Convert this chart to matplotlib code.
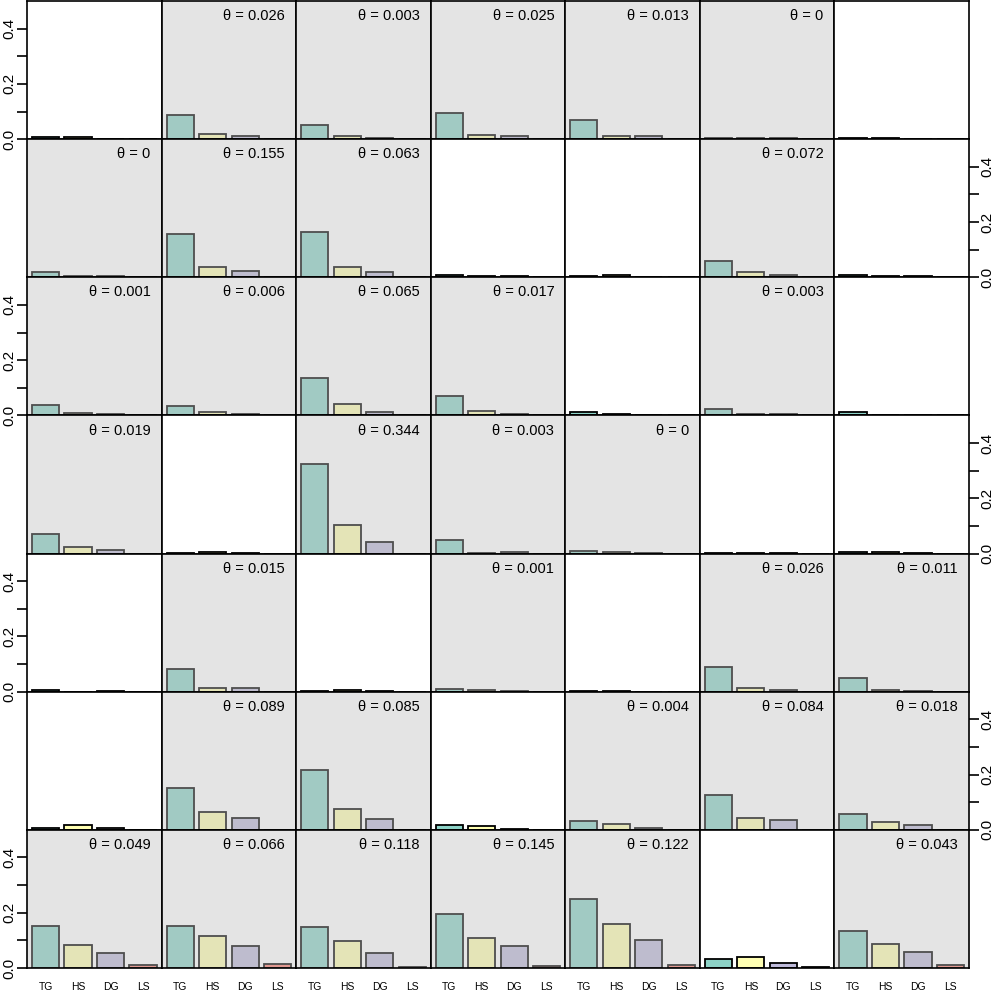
import matplotlib.pyplot as plt
from matplotlib.patches import Rectangle

plt.rcParams['font.family'] = ['Liberation Sans', 'DejaVu Sans']

categories = ['TG', 'HS', 'DG', 'LS']
bar_colors = ['#8dd3c7', '#ffffb3', '#bebada', '#fb8072']

# theta per panel (None = panel not highlighted, no label)
theta = [
    [None, '0.026', '0.003', '0.025', '0.013', '0', None],
    ['0', '0.155', '0.063', None, None, '0.072', None],
    ['0.001', '0.006', '0.065', '0.017', None, '0.003', None],
    ['0.019', None, '0.344', '0.003', '0', None, None],
    [None, '0.015', None, '0.001', None, '0.026', '0.011'],
    [None, '0.089', '0.085', None, '0.004', '0.084', '0.018'],
    ['0.049', '0.066', '0.118', '0.145', '0.122', None, '0.043'],
]

tg_vals = [
    [0.006, 0.089, 0.051, 0.095, 0.069, 0.004, 0.005],
    [0.018, 0.156, 0.163, 0.010, 0.006, 0.059, 0.010],
    [0.037, 0.035, 0.134, 0.072, 0.011, 0.023, 0.013],
    [0.072, 0.003, 0.324, 0.048, 0.009, 0.002, 0.004],
    [0.007, 0.082, 0.003, 0.009, 0.003, 0.089, 0.049],
    [0.007, 0.150, 0.215, 0.016, 0.031, 0.126, 0.057],
    [0.153, 0.152, 0.149, 0.196, 0.249, 0.031, 0.135],
]
hs_vals = [
    [0.006, 0.019, 0.011, 0.014, 0.013, 0.004, 0.005],
    [0.006, 0.036, 0.039, 0.006, 0.007, 0.019, 0.006],
    [0.007, 0.013, 0.042, 0.016, 0.004, 0.005, 0.001],
    [0.025, 0.006, 0.105, 0.003, 0.004, 0.002, 0.004],
    [0.000, 0.013, 0.006, 0.006, 0.003, 0.012, 0.007],
    [0.017, 0.065, 0.074, 0.013, 0.021, 0.043, 0.028],
    [0.083, 0.115, 0.098, 0.109, 0.158, 0.041, 0.086],
]
dg_vals = [
    [0.000, 0.011, 0.005, 0.012, 0.010, 0.004, 0.000],
    [0.004, 0.024, 0.018, 0.004, 0.001, 0.008, 0.003],
    [0.004, 0.004, 0.013, 0.006, 0.000, 0.006, 0.000],
    [0.012, 0.001, 0.042, 0.004, 0.002, 0.001, 0.003],
    [0.003, 0.013, 0.001, 0.003, 0.000, 0.007, 0.001],
    [0.005, 0.042, 0.041, 0.002, 0.007, 0.035, 0.017],
    [0.053, 0.080, 0.054, 0.080, 0.101, 0.018, 0.057],
]
ls_vals = [
    [0.000, 0.000, 0.000, 0.000, 0.000, 0.000, 0.000],
    [0.000, 0.000, 0.000, 0.000, 0.000, 0.000, 0.001],
    [0.000, 0.000, 0.000, 0.000, 0.000, 0.000, 0.000],
    [0.000, 0.000, 0.000, 0.000, 0.000, 0.000, 0.000],
    [0.000, 0.000, 0.000, 0.000, 0.000, 0.000, 0.000],
    [0.000, 0.000, 0.000, 0.000, 0.000, 0.000, 0.000],
    [0.010, 0.013, 0.003, 0.008, 0.010, 0.005, 0.011],
]

nrow, ncol = 7, 7
W = H = 997
left_px, right_px = 27, 969
top_px, bot_px = 1, 968
pw = (right_px - left_px) / ncol
ph = (bot_px - top_px) / nrow

fig = plt.figure(figsize=(W / 100, H / 100), dpi=100)

xpos = [0.7, 1.9, 3.1, 4.3]

for r in range(nrow):
    for c in range(ncol):
        x0 = (left_px + c * pw) / W
        y0 = 1 - (top_px + (r + 1) * ph) / H
        ax = fig.add_axes([x0, y0, pw / W, ph / H])
        vals = [tg_vals[r][c], hs_vals[r][c], dg_vals[r][c], ls_vals[r][c]]
        ax.bar(xpos, vals, width=1.0, color=bar_colors, edgecolor='black',
               linewidth=1.3, zorder=1)
        ax.set_xlim(0.016, 4.984)
        ax.set_ylim(0, 0.5)
        for sp in ax.spines.values():
            sp.set_linewidth(1.2)
            sp.set_color('black')
        if theta[r][c] is not None:
            # grey veil over highlighted panels
            ax.add_patch(Rectangle((0, 0), 1, 1, transform=ax.transAxes,
                                   facecolor='#bfbfbf', alpha=0.41,
                                   edgecolor='none', zorder=1.5))
            ax.text(0.918, 0.89, '\u03b8 = ' + theta[r][c], transform=ax.transAxes,
                    ha='right', va='center', fontsize=10.5, zorder=3)

        # x labels only on bottom row
        if r == nrow - 1:
            ax.set_xticks(xpos)
            ax.set_xticklabels(categories, fontsize=7.5)
            ax.tick_params(axis='x', length=0, pad=10)
        else:
            ax.set_xticks([])

        # y axis alternates left / right
        yt = [0, 0.1, 0.2, 0.3, 0.4]
        ylab = ['0.0', '', '0.2', '', '0.4']
        if r % 2 == 0 and c == 0:
            ax.set_yticks(yt)
            ax.set_yticklabels(ylab, rotation=90, va='center', fontsize=11)
            ax.tick_params(axis='y', length=7, width=1.2, pad=1)
        elif r % 2 == 1 and c == ncol - 1:
            ax.yaxis.tick_right()
            ax.set_yticks(yt)
            ax.set_yticklabels(ylab, rotation=90, va='center', fontsize=11)
            ax.tick_params(axis='y', length=7, width=1.2, pad=1)
        else:
            ax.set_yticks([])

fig.savefig('out.png', dpi=100)
